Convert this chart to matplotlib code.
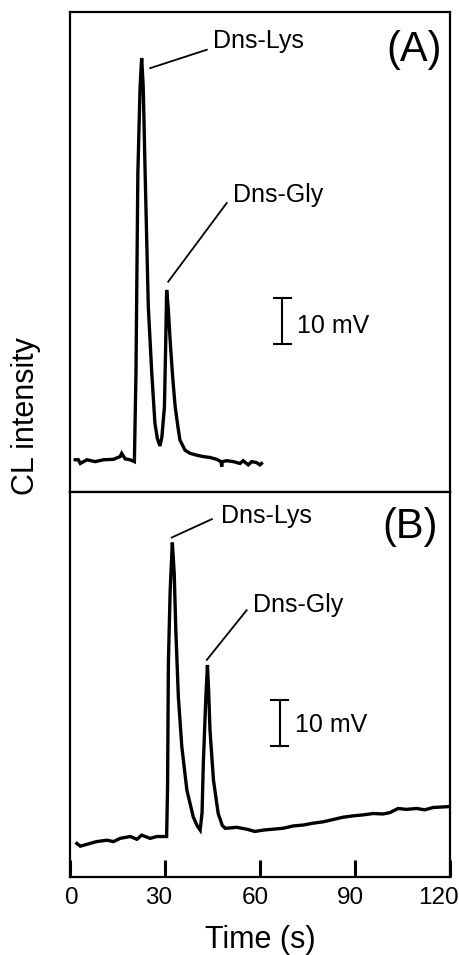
""" CL chromatograms of Dns-Lys and Dns-Gly, panels (A) and (B) """

import matplotlib
matplotlib.use('Agg')
import matplotlib.pyplot as plt
import matplotlib.transforms as mtransforms

plt.rcParams['font.family'] = ['Liberation Sans', 'DejaVu Sans']

# -- Panel A trace (time in s, signal in mV above the panel floor)

time_a = [1.5, 2.5, 3.1, 5.2, 7.8, 10.4, 13.6, 15.7, 16.2, 17.3, 18.9, 20.2,
          20.7, 21.3, 22.0, 22.5, 23.0, 23.6, 24.6, 25.7, 26.7, 27.5, 28.3,
          28.9, 29.7, 30.1, 30.4, 30.9, 31.5, 32.3, 33.1, 34.0, 34.6, 36.2,
          37.8, 39.9, 42.0, 44.1, 46.2, 47.6, 47.8, 48.0, 49.4, 51.5, 53.6,
          54.6, 56.2, 57.3, 58.8, 59.9, 60.4]
sig_a = [7.0, 7.0, 6.2, 7.0, 6.6, 7.0, 7.1, 7.7, 8.4, 7.2, 7.0, 6.6,
         25.8, 69.3, 88.0, 94.3, 88.0, 69.3, 40.3, 25.8, 14.9, 11.5, 10.0,
         12.0, 18.5, 32.0, 43.9, 40.0, 33.0, 25.0, 18.5, 14.0, 11.3, 9.1,
         8.4, 8.0, 7.7, 7.5, 7.1, 6.6, 5.5, 6.6, 6.8, 6.6, 6.2,
         6.8, 5.9, 6.6, 6.4, 5.9, 6.2]

# -- Panel B trace

time_b = [2.0, 3.1, 6.2, 8.3, 11.5, 13.6, 15.7, 18.9, 21.0, 22.5, 25.2, 27.3,
          30.4, 30.7, 30.95, 31.5, 32.2, 32.8, 33.3, 34.1, 35.2, 36.8, 38.8,
          40.0, 41.0, 41.6, 42.0, 42.8, 43.3, 43.7, 44.1, 45.2, 46.7, 48.0,
          48.9, 49.4, 52.5, 55.7, 58.3, 61.0, 64.1, 67.3, 70.4, 73.6, 76.7,
          79.9, 83.1, 86.2, 89.4, 92.5, 95.7, 98.8, 101.0, 103.6, 106.2,
          109.4, 112.0, 114.6, 119.4]
sig_b = [7.3, 6.7, 7.3, 7.7, 8.0, 7.7, 8.4, 8.8, 8.2, 9.1, 8.4, 8.8,
         8.8, 20.0, 46.5, 62.0, 72.7, 66.0, 53.7, 39.2, 28.3, 18.9, 13.1,
         11.2, 10.2, 14.0, 24.7, 39.2, 46.1, 40.0, 32.0, 21.1, 13.8, 11.2,
         10.6, 10.6, 10.8, 10.4, 9.9, 10.2, 10.4, 10.6, 11.1, 11.3, 11.7,
         12.0, 12.5, 13.0, 13.3, 13.5, 13.8, 13.7, 14.0, 14.9, 14.7,
         14.9, 14.6, 15.1, 15.3]

# -- Peak labels: text position and leader line end points

peak_names = ['Dns-Lys', 'Dns-Gly']
label_a = [(45.2, 96.5), (51.3, 63.1)]
leader_a = [((25.2, 92.1), (43.1, 96.1)), ((30.9, 45.7), (49.4, 62.8))]
label_b = [(47.5, 77.0), (57.8, 57.7)]
leader_b = [((32.0, 73.8), (44.7, 77.8)), ((43.1, 47.2), (55.7, 58.0))]

# -- 10 mV scale bars: (time, bottom, top), label position

bar_a = (67.0, 32.1, 42.1)
bar_a_text = (71.6, 34.5)
bar_b = (66.2, 28.5, 38.5)
bar_b_text = (71.0, 31.6)

x_ticks = [0, 30, 60, 90, 120]
x_label_nudge = [1, -7, -4.5, -5, -12]   # px, labels sit left of ticks

W, H = 460, 955
fig = plt.figure(figsize=(W / 100, H / 100), dpi=100)
left, right = 70.5, 450.0
ax_a = fig.add_axes([left / W, (H - 492) / H, (right - left) / W, 480 / H])
ax_b = fig.add_axes([left / W, (H - 877) / H, (right - left) / W, 385 / H])


def draw_panel(ax, t, s, ylim, labels, leaders, bar, bar_text, tag, tag_pos):
    ax.plot(t, s, color='black', lw=2.4, solid_joinstyle='miter')
    for name, (tx, ty), (p0, p1) in zip(peak_names, labels, leaders):
        ax.plot([p0[0], p1[0]], [p0[1], p1[1]], color='black', lw=1.3)
        ax.text(tx, ty, name, fontsize=18, ha='left', va='baseline')
    bt, lo, hi = bar
    ax.plot([bt, bt], [lo, hi], color='black', lw=1.5)
    ax.plot([bt - 2.7, bt + 2.7], [lo, lo], color='black', lw=1.5)
    ax.plot([bt - 2.7, bt + 2.7], [hi, hi], color='black', lw=1.5)
    ax.text(bar_text[0], bar_text[1], '10 mV', fontsize=18,
            ha='left', va='baseline')
    ax.text(tag_pos[0], tag_pos[1], tag, fontsize=30, ha='right',
            va='baseline')
    ax.set_xlim(0, 120)
    ax.set_ylim(*ylim)
    ax.set_yticks([])
    for sp in ax.spines.values():
        sp.set_linewidth(1.6)


draw_panel(ax_a, time_a, sig_a, (0, 104.3), label_a, leader_a,
           bar_a, bar_a_text, '(A)', (117.3, 93.7))
draw_panel(ax_b, time_b, sig_b, (0, 83.7), label_b, leader_b,
           bar_b, bar_b_text, '(B)', (116.2, 73.8))

ax_a.set_xticks([])

ax_b.set_xticks(x_ticks)
ax_b.set_xticklabels([str(v) for v in x_ticks])
ax_b.tick_params(axis='x', direction='in', length=12, width=2.2,
                 labelsize=17.5, pad=7)
for lab, dx in zip(ax_b.get_xticklabels(), x_label_nudge):
    shift = mtransforms.ScaledTranslation(dx / 100, 0, fig.dpi_scale_trans)
    lab.set_transform(lab.get_transform() + shift)

fig.text(260 / W, 1 - 940 / H, 'Time (s)', fontsize=22,
         ha='center', va='center')
fig.text(26 / W, 1 - 416 / H, 'CL intensity', fontsize=22,
         ha='center', va='center', rotation=90)

fig.savefig('out.png', dpi=100)
